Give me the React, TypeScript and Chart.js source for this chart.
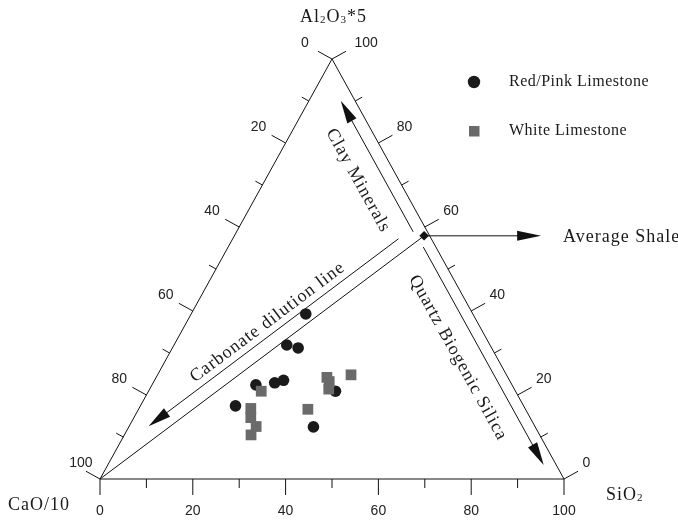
import React, { useEffect, useRef } from 'react';
import { Chart, registerables } from 'chart.js';

Chart.register(...registerables);

// ---- Data (ternary percentages; CaO/10 is the remainder) ----
const redPinkSiO2 = [24.7, 24.3, 27.1, 22.4, 26.2, 27.8, 40.3, 20.5, 39.8];
const redPinkAl2O3 = [39.3, 31.9, 31.2, 22.4, 22.9, 23.5, 20.9, 17.4, 12.4];
const whiteSiO2 = [24.3, 36.8, 37.8, 38.6, 41.7, 36.5, 24.1, 25.2, 27.4, 27.3];
const whiteAl2O3 = [20.9, 24.2, 23.2, 21.4, 24.8, 16.6, 16.8, 14.6, 12.5, 10.5];
const avgShaleSiO2 = 40.9;
const avgShaleAl2O3 = 57.9;

const tickSteps = [0, 10, 20, 30, 40, 50, 60, 70, 80, 90, 100];
const labelledTicks = [0, 20, 40, 60, 80, 100];
const tickLabels = ['0', '20', '40', '60', '80', '100'];

const seriesNames = ['Red/Pink Limestone', 'White Limestone'];
const shaleLabel = 'Average Shale';
const clayLabel = 'Clay Minerals';
const quartzLabel = 'Quartz Biogenic Silica';
const carbonateLabel = 'Carbonate dilution line';

// arrow extents along the edges (in axis units)
const clayArrowAl2O3 = [60.3, 91.5];
const quartzArrowAl2O3 = [56.5, 4.6];
const carbonateArrowFrac = [0.945, 0.174];

const toXY = (s: number, a: number) => ({ x: s + a / 2, y: a });

const SERIF = '"Liberation Serif", "Times New Roman", serif';
const SANS = '"Liberation Sans", Arial, sans-serif';

type Pt = { x: number; y: number };
const unit = (a: Pt, b: Pt) => {
  const dx = b.x - a.x, dy = b.y - a.y;
  const l = Math.hypot(dx, dy);
  return { x: dx / l, y: dy / l };
};
const add = (p: Pt, d: Pt, k: number) => ({ x: p.x + d.x * k, y: p.y + d.y * k });

function line(ctx: CanvasRenderingContext2D, a: Pt, b: Pt) {
  ctx.beginPath();
  ctx.moveTo(a.x, a.y);
  ctx.lineTo(b.x, b.y);
  ctx.stroke();
}

function arrow(ctx: CanvasRenderingContext2D, a: Pt, b: Pt, headLen = 23, headHalf = 5.2) {
  const d = unit(a, b);
  const base = add(b, d, -headLen);
  line(ctx, a, add(b, d, -headLen * 0.6));
  ctx.beginPath();
  ctx.moveTo(b.x, b.y);
  ctx.lineTo(base.x - d.y * headHalf, base.y + d.x * headHalf);
  ctx.lineTo(base.x + d.y * headHalf, base.y - d.x * headHalf);
  ctx.closePath();
  ctx.fill();
}

function rotText(ctx: CanvasRenderingContext2D, text: string, p: Pt, angle: number) {
  ctx.save();
  ctx.translate(p.x, p.y);
  ctx.rotate(angle);
  ctx.textAlign = 'center';
  ctx.textBaseline = 'middle';
  ctx.fillText(text, 0, 0);
  ctx.restore();
}

function richText(ctx: CanvasRenderingContext2D, parts: [string, boolean][], x: number, y: number, size: number) {
  let cx = x;
  ctx.textAlign = 'left';
  ctx.textBaseline = 'alphabetic';
  for (const [t, sub] of parts) {
    ctx.font = `${sub ? Math.round(size * 0.62) : size}px ${SERIF}`;
    ctx.fillText(t, cx, sub ? y + 1 : y);
    cx += ctx.measureText(t).width;
  }
}

const ternaryPlugin = {
  id: 'ternaryDecor',
  beforeDatasetsDraw(chart: any) {
    const ctx: CanvasRenderingContext2D = chart.ctx;
    const xs = chart.scales.x, ys = chart.scales.y;
    const P = (s: number, a: number) => ({ x: xs.getPixelForValue(s + a / 2), y: ys.getPixelForValue(a) });
    const apex = P(0, 100), bl = P(0, 0), br = P(100, 0);
    const dL = unit(apex, bl);
    const nL = { x: -dL.y, y: dL.x };
    const dR = unit(br, apex);
    const nR = { x: -dR.y, y: dR.x };
    const nIn = { x: -nR.x, y: -nR.y };

    ctx.save();
    ctx.strokeStyle = '#111';
    ctx.fillStyle = '#111';
    ctx.lineWidth = 1;

    // ticks
    tickSteps.forEach((v) => {
      const major = v % 20 === 0;
      const pb = P(v, 0);
      line(ctx, pb, { x: pb.x, y: pb.y + (major ? 16 : 9) });
      const pl = P(0, 100 - v);
      line(ctx, pl, add(pl, nL, major ? 16 : 8));
      const pr = P(100 - v, v);
      line(ctx, pr, add(pr, nR, major ? 16 : 8));
    });

    // tick labels
    ctx.font = `14px ${SANS}`;
    ctx.fillStyle = '#222';
    labelledTicks.forEach((v, i) => {
      const lbl = tickLabels[i];
      const pb = P(v, 0);
      ctx.textAlign = 'center';
      ctx.textBaseline = 'middle';
      ctx.fillText(lbl, pb.x, pb.y + 32);
      const pl = P(0, 100 - v);
      const cl = add(pl, nL, 31);
      ctx.fillText(lbl, cl.x + (v === 100 ? 8 : 0), cl.y - 1);
      const pr = P(100 - v, v);
      ctx.textAlign = 'left';
      ctx.fillText(lbl, pr.x + nR.x * 21 + (v === 100 ? 4 : 0), pr.y + nR.y * 21 - 6);
    });

    // guide lines & arrows
    ctx.fillStyle = '#111';
    const shale = P(avgShaleSiO2, avgShaleAl2O3);
    line(ctx, bl, shale);
    const dC = unit(bl, shale);
    const lenC = Math.hypot(shale.x - bl.x, shale.y - bl.y);
    const nC = { x: dC.y, y: -dC.x };
    const cA = add(add(bl, dC, lenC * carbonateArrowFrac[0]), nC, 13);
    const cB = add(add(bl, dC, lenC * carbonateArrowFrac[1]), nC, 13);
    arrow(ctx, cA, cB);
    const k1 = P(100 - clayArrowAl2O3[0], clayArrowAl2O3[0]);
    const k2 = P(100 - clayArrowAl2O3[1], clayArrowAl2O3[1]);
    arrow(ctx, add(k1, nIn, 12.5), add(k2, nIn, 12.5));
    const q1 = P(100 - quartzArrowAl2O3[0], quartzArrowAl2O3[0]);
    const q2 = P(100 - quartzArrowAl2O3[1], quartzArrowAl2O3[1]);
    arrow(ctx, add(q1, nIn, 11), add(q2, nIn, 11));
    arrow(ctx, shale, { x: shale.x + 117, y: shale.y }, 24, 5);
    ctx.restore();
  },
  afterDatasetsDraw(chart: any) {
    const ctx: CanvasRenderingContext2D = chart.ctx;
    const xs = chart.scales.x, ys = chart.scales.y;
    const P = (s: number, a: number) => ({ x: xs.getPixelForValue(s + a / 2), y: ys.getPixelForValue(a) });
    const apex = P(0, 100), bl = P(0, 0), br = P(100, 0);
    const dR = unit(br, apex);
    const nIn = { x: dR.y, y: -dR.x };
    const downAngle = Math.atan2(-dR.y, -dR.x);
    const shale = P(avgShaleSiO2, avgShaleAl2O3);
    const dC = unit(bl, shale);
    const lenC = Math.hypot(shale.x - bl.x, shale.y - bl.y);
    const nC = { x: dC.y, y: -dC.x };

    ctx.save();
    ctx.fillStyle = '#1a1a1a';
    (ctx as any).letterSpacing = '1px';
    ctx.font = `18px ${SERIF}`;
    rotText(ctx, clayLabel, add(P(100 - 75.2, 75.2), nIn, 36), downAngle);
    rotText(ctx, quartzLabel, add(P(100 - 32.8, 32.8), nIn, 34.3), downAngle);
    rotText(ctx, carbonateLabel, add(add(bl, dC, lenC * 0.563), nC, 24.7), Math.atan2(dC.y, dC.x));

    ctx.textAlign = 'left';
    ctx.textBaseline = 'middle';
    ctx.fillText(shaleLabel, shale.x + 139, shale.y + 1);

    (ctx as any).letterSpacing = '1px';
    richText(ctx, [['Al', false], ['2', true], ['O', false], ['3', true], ['*5', false]], apex.x - 32, apex.y - 37, 18);
    richText(ctx, [['SiO', false], ['2', true]], br.x + 42, br.y + 21, 18);
    richText(ctx, [['CaO/10', false]], bl.x - 92, bl.y + 31, 18);

    (ctx as any).letterSpacing = '0.5px';
    ctx.fillStyle = '#1a1a1a';
    ctx.beginPath();
    ctx.arc(474, 82, 6.2, 0, Math.PI * 2);
    ctx.fill();
    ctx.fillStyle = '#6a6a6a';
    ctx.fillRect(469, 126, 10.5, 10.5);
    ctx.fillStyle = '#1a1a1a';
    ctx.font = `16px ${SERIF}`;
    ctx.textAlign = 'left';
    ctx.textBaseline = 'middle';
    ctx.fillText(seriesNames[0], 509, 82);
    ctx.fillText(seriesNames[1], 509, 131);
    ctx.restore();
  },
};

export default function App() {
  const ref = useRef<HTMLCanvasElement | null>(null);
  useEffect(() => {
    if (!ref.current) return;
    const triangle = [toXY(0, 0), toXY(100, 0), toXY(0, 100), toXY(0, 0)];
    const chart = new Chart(ref.current, {
      type: 'scatter',
      data: {
        datasets: [
          {
            type: 'line',
            label: 'frame',
            data: triangle,
            borderColor: '#111',
            borderWidth: 1,
            pointRadius: 0,
            fill: false,
            tension: 0,
            clip: false,
          } as any,
          {
            label: 'Average Shale',
            data: [toXY(avgShaleSiO2, avgShaleAl2O3)],
            pointStyle: 'rectRot',
            pointRadius: 4.8,
            backgroundColor: '#111',
            borderColor: '#111',
            borderWidth: 0,
            clip: false,
          } as any,
          {
            label: seriesNames[1],
            data: whiteSiO2.map((s, i) => toXY(s, whiteAl2O3[i])),
            pointStyle: 'rect',
            pointRadius: 7.6,
            backgroundColor: '#6a6a6a',
            borderColor: '#6a6a6a',
            borderWidth: 0,
          } as any,
          {
            label: seriesNames[0],
            data: redPinkSiO2.map((s, i) => toXY(s, redPinkAl2O3[i])),
            pointStyle: 'circle',
            pointRadius: 5.8,
            backgroundColor: '#1a1a1a',
            borderColor: '#1a1a1a',
            borderWidth: 0,
          } as any,
        ],
      },
      options: {
        responsive: false,
        animation: false,
        events: [],
        layout: { padding: { left: 100, right: 114, top: 59, bottom: 43 } },
        scales: {
          x: { type: 'linear', min: 0, max: 100, display: false },
          y: { type: 'linear', min: 0, max: 100, display: false },
        },
        plugins: { legend: { display: false }, tooltip: { enabled: false } },
      },
      plugins: [ternaryPlugin],
    });
    return () => chart.destroy();
  }, []);
  return (
    <div style={{ position: 'absolute', left: 0, top: 0, width: 678, height: 522, background: '#fff' }}>
      <canvas ref={ref} width={678} height={522} style={{ display: 'block' }} />
    </div>
  );
}
